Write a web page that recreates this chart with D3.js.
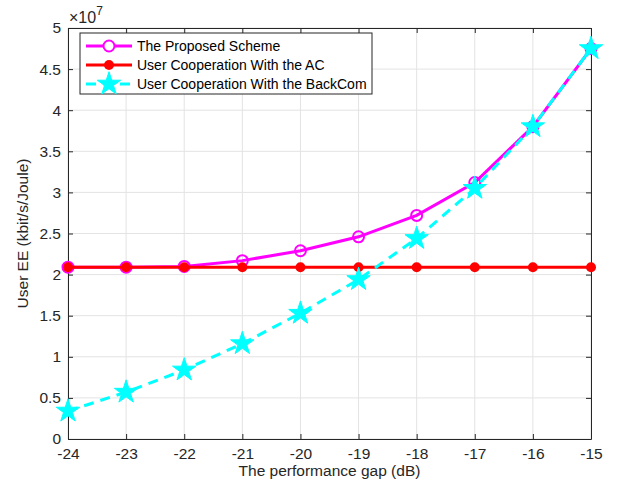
<!DOCTYPE html>
<html><head><meta charset="utf-8">
<script src="https://cdn.jsdelivr.net/npm/d3@7"></script>
<style>body{margin:0;background:#fff}svg{display:block;font-family:"Liberation Sans",Arial,Helvetica,sans-serif}</style>
</head><body><svg id="c" width="617" height="486"></svg>
<script>
const gapDb = [-24,-23,-22,-21,-20,-19,-18,-17,-16,-15];
const proposed = [2.09,2.09,2.10,2.17,2.29,2.46,2.72,3.12,3.80,4.75];
const userAC = [2.09,2.09,2.09,2.09,2.09,2.09,2.09,2.09,2.09,2.09];
const backCom = [0.34,0.57,0.84,1.16,1.53,1.94,2.44,3.05,3.80,4.75];
const yTicks = [0,0.5,1,1.5,2,2.5,3,3.5,4,4.5,5];
const seriesNames = ["The Proposed Scheme","User Cooperation With the AC","User Cooperation With the BackCom"];

const svg = d3.select("#c");
const L=68,R=591,T=28,B=439;
const x = d3.scaleLinear().domain([-24,-15]).range([L,R]);
const y = d3.scaleLinear().domain([0,5]).range([B,T]);

// grid
const g = svg.append("g");
g.selectAll(".gx").data(gapDb).enter().append("line")
 .attr("x1",d=>x(d)).attr("x2",d=>x(d)).attr("y1",T).attr("y2",B)
 .attr("stroke","#e3e3e3").attr("stroke-width",1);
g.selectAll(".gy").data(yTicks).enter().append("line")
 .attr("y1",d=>y(d)).attr("y2",d=>y(d)).attr("x1",L).attr("x2",R)
 .attr("stroke","#e3e3e3").attr("stroke-width",1);

// axes
const axCol="#262626";
const xa = svg.append("g").attr("transform",`translate(0,${B})`)
 .call(d3.axisBottom(x).tickValues(gapDb).tickFormat(d=>String(d)).tickSizeInner(-5).tickSizeOuter(0).tickPadding(9));
const xt = svg.append("g").attr("transform",`translate(0,${T})`)
 .call(d3.axisTop(x).tickValues(gapDb).tickFormat("").tickSizeInner(-5).tickSizeOuter(0));
const ya = svg.append("g").attr("transform",`translate(${L},0)`)
 .call(d3.axisLeft(y).tickValues(yTicks).tickFormat(d=>String(d)).tickSizeInner(-5).tickSizeOuter(0).tickPadding(7));
const yr = svg.append("g").attr("transform",`translate(${R},0)`)
 .call(d3.axisRight(y).tickValues(yTicks).tickFormat("").tickSizeInner(-5).tickSizeOuter(0));
[xa,xt,ya,yr].forEach(a=>{
  a.select(".domain").attr("stroke",axCol).attr("stroke-width",1);
  a.selectAll(".tick line").attr("stroke",axCol);
  a.selectAll("text").attr("fill","#262626").attr("font-size",15.5).attr("font-family","Liberation Sans, Arial, sans-serif");
});

svg.append("text").attr("x",(L+R)/2).attr("y",476).attr("text-anchor","middle")
 .attr("font-size",15.5).attr("fill","#262626").text("The performance gap (dB)");
svg.append("text").attr("transform",`translate(28,${(T+B)/2}) rotate(-90)`).attr("text-anchor","middle")
 .attr("font-size",15.5).attr("fill","#262626").text("User EE (kbit/s/Joule)");
const mult = svg.append("text").attr("x",69).attr("y",23).attr("font-size",16).attr("fill","#262626");
mult.append("tspan").text("×10");
mult.append("tspan").attr("dy",-8).attr("font-size",12).text("7");

const line = d3.line().x(d=>x(d[0])).y(d=>y(d[1]));
const zip = arr => gapDb.map((v,i)=>[v,arr[i]]);
const star = d3.symbol().type(d3.symbolStar).size(170);

// Proposed
svg.append("path").datum(zip(proposed)).attr("d",line).attr("fill","none").attr("stroke","#ff00ff").attr("stroke-width",3);
svg.selectAll(".pm").data(zip(proposed)).enter().append("circle")
 .attr("cx",d=>x(d[0])).attr("cy",d=>y(d[1])).attr("r",5.5).attr("fill","none").attr("stroke","#ff00ff").attr("stroke-width",2);
// AC
svg.append("path").datum(zip(userAC)).attr("d",line).attr("fill","none").attr("stroke","#ff0000").attr("stroke-width",3);
svg.selectAll(".am").data(zip(userAC)).enter().append("circle")
 .attr("cx",d=>x(d[0])).attr("cy",d=>y(d[1])).attr("r",5).attr("fill","#ff0000");
// BackCom
svg.append("path").datum(zip(backCom)).attr("d",line).attr("fill","none").attr("stroke","#00ffff").attr("stroke-width",3).attr("stroke-dasharray","10,7");
svg.selectAll(".bm").data(zip(backCom)).enter().append("path")
 .attr("d",star).attr("transform",d=>`translate(${x(d[0])},${y(d[1])})`).attr("fill","#00ffff").attr("stroke","#00ffff").attr("stroke-width",1);

// legend
const lg = svg.append("g");
lg.append("rect").attr("x",80).attr("y",33).attr("width",292).attr("height",61).attr("fill","#fff").attr("stroke","#262626").attr("stroke-width",1);
const rows=[46,65,84];
const cols=["#ff00ff","#ff0000","#00ffff"];
rows.forEach((ry,i)=>{
  lg.append("line").attr("x1",86).attr("x2",132).attr("y1",ry).attr("y2",ry).attr("stroke",cols[i]).attr("stroke-width",3)
   .attr("stroke-dasharray",i==2?"10,7":null);
  if(i==0) lg.append("circle").attr("cx",109).attr("cy",ry).attr("r",5.5).attr("fill","#fff").attr("stroke",cols[i]).attr("stroke-width",2);
  if(i==1) lg.append("circle").attr("cx",109).attr("cy",ry).attr("r",5).attr("fill",cols[i]);
  if(i==2) lg.append("path").attr("d",star).attr("transform",`translate(109,${ry})`).attr("fill",cols[i]).attr("stroke",cols[i]);
  lg.append("text").attr("x",137).attr("y",ry+5).attr("font-size",14).attr("fill","#000").text(seriesNames[i]);
});
</script></body></html>
